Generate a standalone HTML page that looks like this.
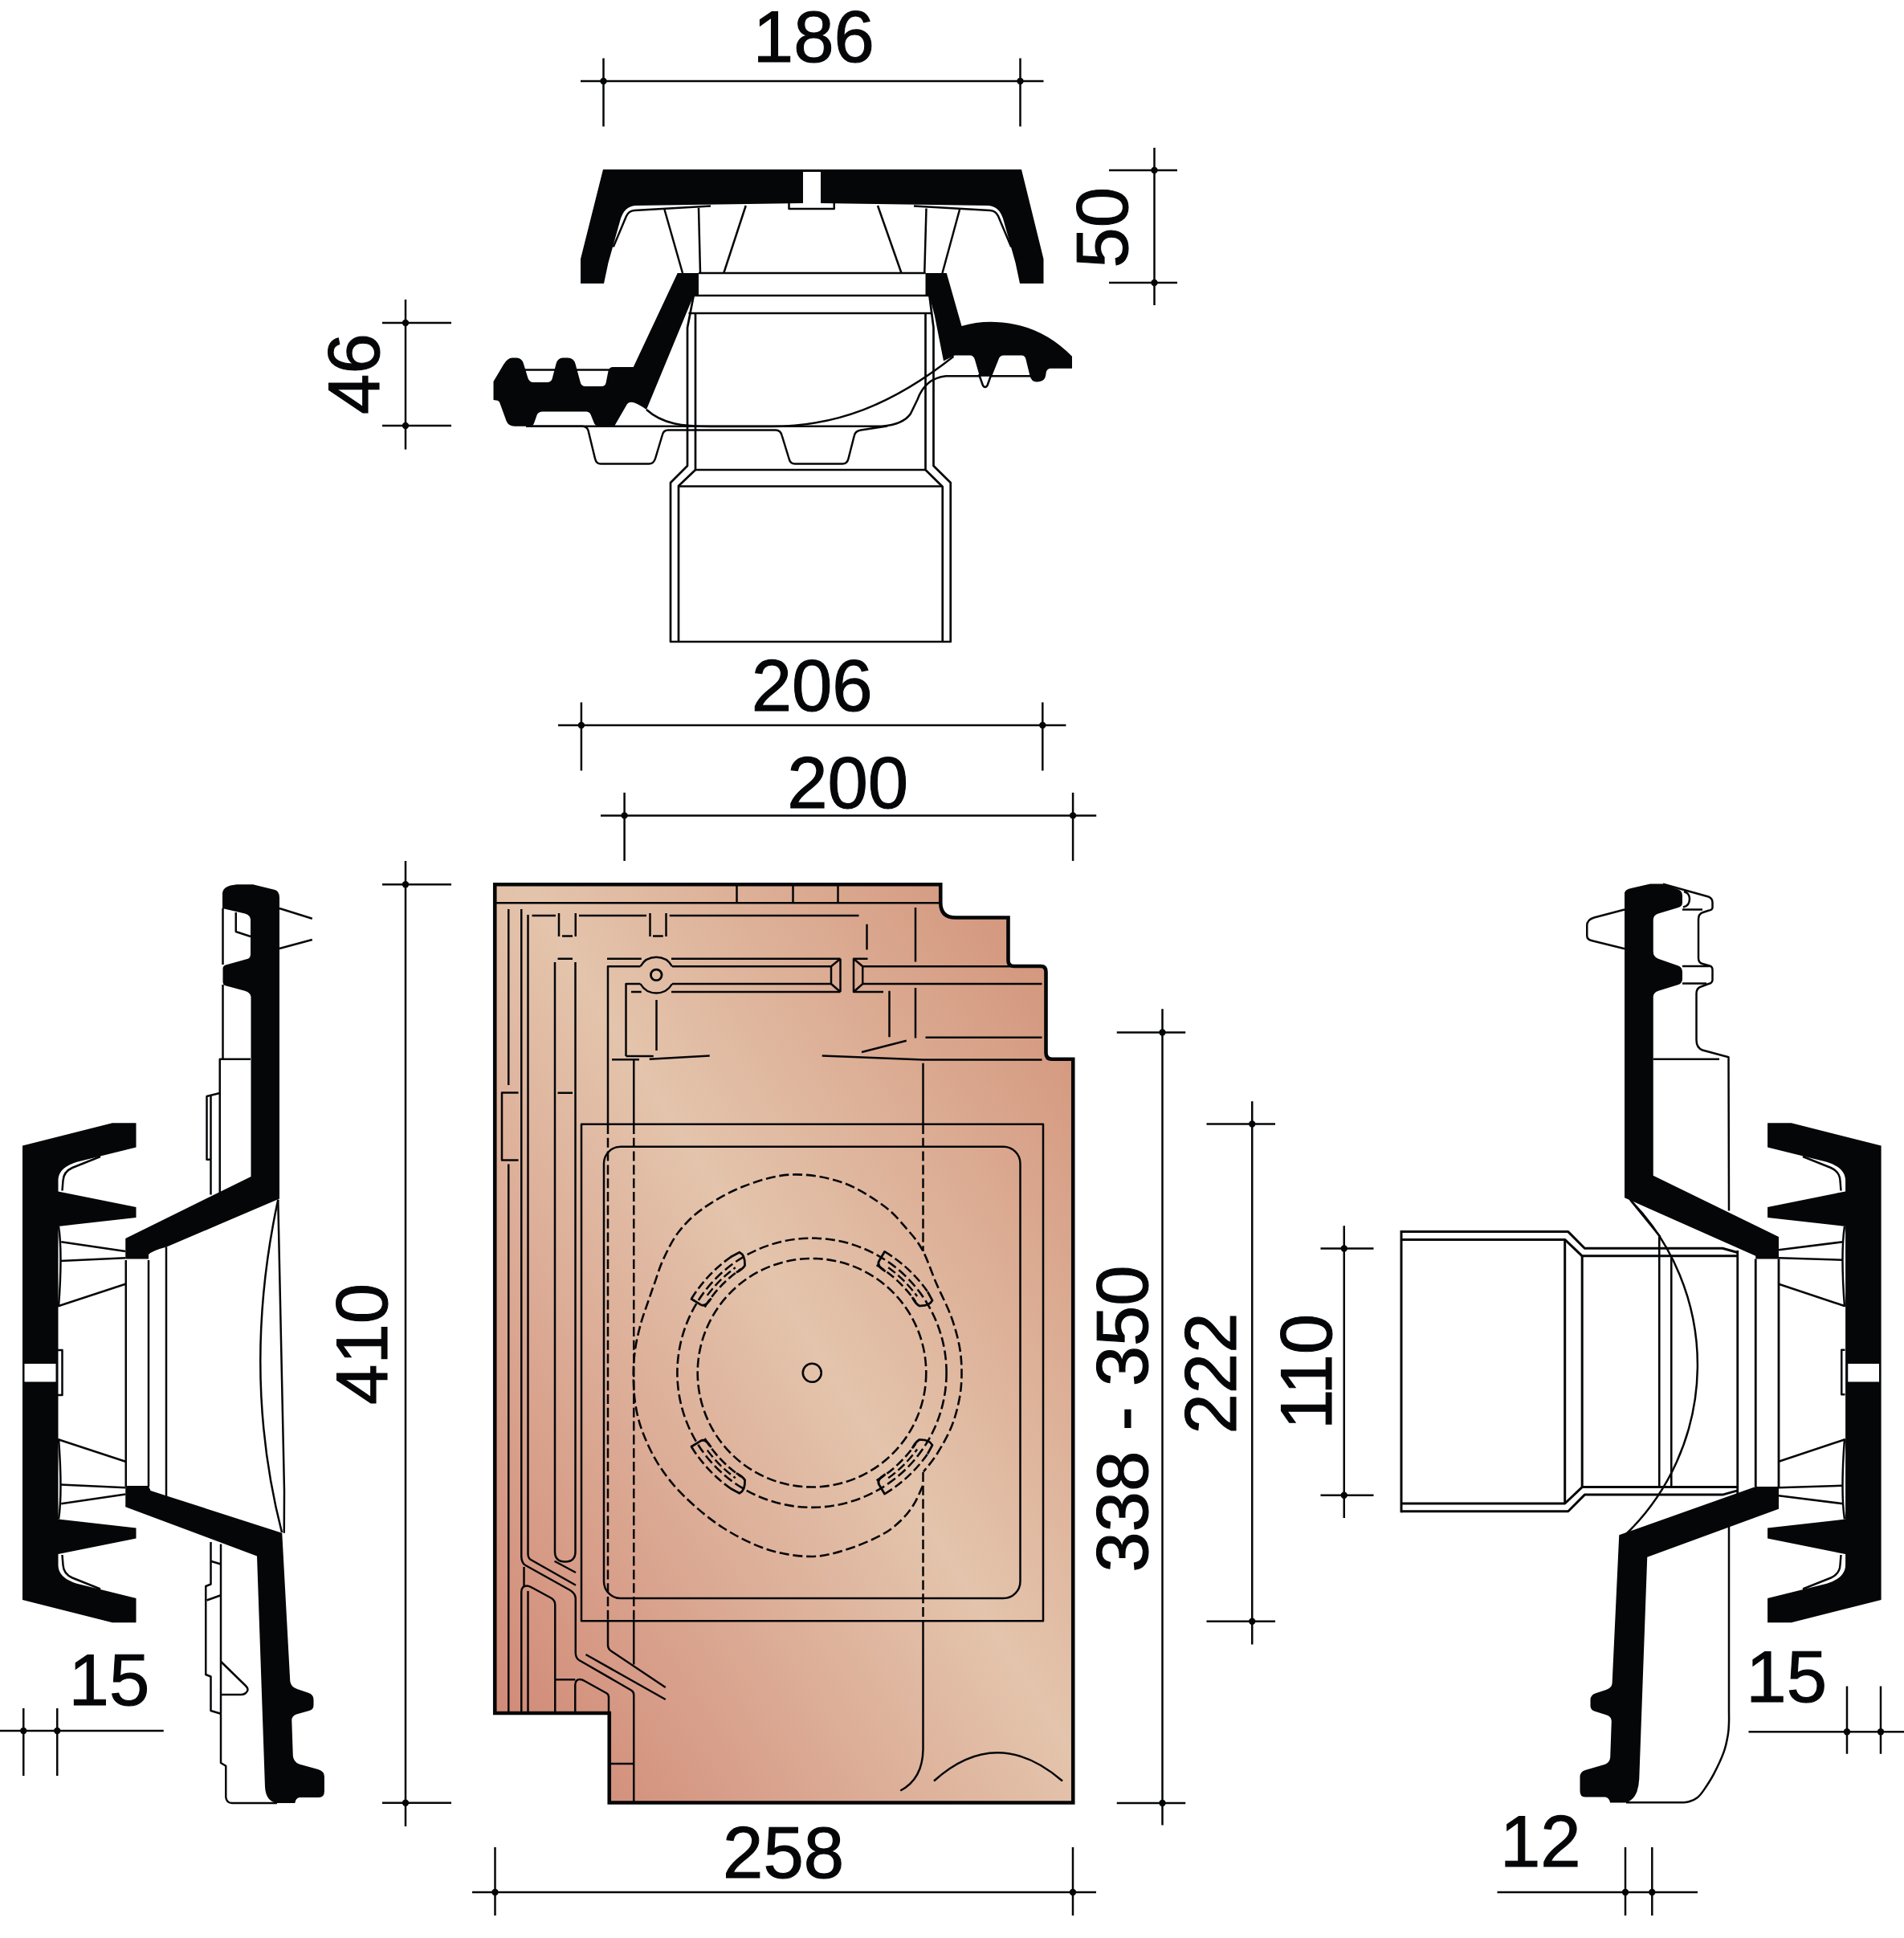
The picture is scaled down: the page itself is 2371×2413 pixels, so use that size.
<!DOCTYPE html>
<html><head><meta charset="utf-8"><title>Drawing</title>
<style>
html,body{margin:0;padding:0;background:#fff;}
svg{display:block;}
text{font-family:"Liberation Sans",Arial,Helvetica,sans-serif;fill:#050608;stroke:#050608;stroke-width:1.1px;stroke-linejoin:miter;}
</style></head>
<body>
<svg width="2371" height="2413" viewBox="0 0 2371 2413" fill="none" stroke="#050608" stroke-linecap="butt" stroke-linejoin="round">
<defs>
<linearGradient id="tg" gradientUnits="userSpaceOnUse" x1="461" y1="1997" x2="1491" y2="1347">
<stop offset="0" stop-color="#cf8572"/>
<stop offset="0.525" stop-color="#e4c4ac"/>
<stop offset="1" stop-color="#d19076"/>
</linearGradient>
</defs>
<rect x="0" y="0" width="2371" height="2413" fill="#ffffff" stroke="none"/>
<g id="topview">
<path d="M763.75,307.5 L780,269 Q783,262.5 790,262 L885,256.5" stroke-width="2.5" fill="none" />
<path d="M1259.25,307.5 L1243,269 Q1240,262.5 1233,262 L1138,256.5" stroke-width="2.5" fill="none" />
<line x1="827.5" y1="261" x2="850" y2="340" stroke-width="2.5" />
<line x1="870" y1="258.75" x2="872" y2="340" stroke-width="2.5" />
<line x1="928.75" y1="256" x2="901.25" y2="340" stroke-width="2.5" />
<line x1="1195" y1="261" x2="1173.5" y2="340" stroke-width="2.5" />
<line x1="1153.5" y1="259.5" x2="1151.25" y2="340" stroke-width="2.5" />
<line x1="1093" y1="256" x2="1122.5" y2="340" stroke-width="2.5" />
<path d="M982.5,253 L982.5,260 L1038.75,260 L1038.75,253" stroke-width="2.5" fill="none" />
<line x1="870" y1="340" x2="1152.5" y2="340" stroke-width="2.7" />
<line x1="863" y1="368" x2="1158" y2="368" stroke-width="2.7" />
<line x1="857.5" y1="390" x2="1160" y2="390" stroke-width="2.7" />
<path d="M863.75,368 L856,408 L856,580 L835,601 L835,799 L1183.75,799 L1183.75,601 L1162.5,580 L1162.5,408 L1157.5,368.75" stroke-width="2.7" fill="none" />
<path d="M866,390 L866,585 L845,605 L845,799" stroke-width="2.7" fill="none" />
<path d="M1152.5,390 L1152.5,585 L1173.75,606 L1173.75,799" stroke-width="2.7" fill="none" />
<line x1="866" y1="585" x2="1152.5" y2="585" stroke-width="2.7" />
<line x1="845" y1="605.5" x2="1173.75" y2="605.5" stroke-width="2.7" />
<line x1="651" y1="460.5" x2="760" y2="460.5" stroke-width="2.5" />
<path d="M655,530.75 L1098,530.75 Q1125,528.5 1134,515 L1142.5,497.5 Q1152,471 1178,468.25 L1283,468.25" stroke-width="2.5" fill="none" />
<path d="M805,510 C825,528 850,531 885,531 L960,531 C1040,531 1110,505 1187.5,443.75" stroke-width="2.5" fill="none" />
<path d="M662.5,530.75 L725,530.75 Q731,531 732.5,536 L741,571 Q742.5,577.5 748,577.5 L808,577.5 Q814,577.5 816,571 L825,541 Q826.5,535.5 832,535.5 L966,535.5 Q972,535.5 973.75,542.5 L982.5,571 Q984,577.5 990,577.5 L1049,577.5 Q1055,577.5 1056.5,571 L1063.75,542.5 Q1065,536.5 1072,535.5 L1105,530.5" stroke-width="2.5" fill="none" />
<path d="M1219,466 L1224,480 Q1226.7,484 1229.5,480 L1234.5,466" stroke-width="2.5" fill="#fff" />
<path d="M751,211 L1272,211 L1299.5,322.5 L1299.5,353 L1270,353 L1264.5,327 L1249,272 Q1244,257 1231,256 L1022,253 L1000,253 L791,256 Q778,257 773,272 L757.5,327 L752,353 L723,353 L723,322.5 Z" fill="#050608" stroke="none"/>
<rect x="1000" y="214" width="22" height="40" fill="#fff" stroke="none"/>
<path d="M843.75,340 L870,340 L870,368 L863.75,368 L805,510 Q797,504 790,501.5 Q784,499.5 781,503 L765,530.75 L746,530.75 Q741,530.75 739.5,526 L735.5,516 Q734,512.5 730,512.5 L676,512.5 Q670,512.5 668.5,517 L665,527 Q663.5,530.75 659,530.75 L641,530.75 Q633,530.75 630.5,524 L622.5,502 Q621.5,498.5 618,498.5 L614.5,498 L614.5,475 L627,454 Q632,445.5 638,445.5 L643,445.5 Q650,445.5 652,453 L657.5,471 Q659.5,476 664,476 L681,476 Q686,476 687.5,472 L692.5,453 Q694.5,445.5 701,445.5 L707,445.5 Q714.5,445.5 716.5,453 L723,477 Q724.5,481 729,481 L749,481 Q753.5,481 754.5,477 L757.5,462 Q758.5,457 763.5,457 L788.75,457 Z" fill="#050608" stroke="none"/>
<path d="M1152.5,340 L1178.75,340 L1197.5,406 Q1218,400 1240,401 Q1295,403 1335,443.75 L1335,458.75 L1307.5,458.75 Q1303,459.5 1302.5,465 Q1302,475.5 1291,475.5 Q1284.5,475.5 1282.5,468 L1277.5,447.5 Q1276.5,442.5 1272,442.5 L1250,442.5 Q1245,442.5 1243.5,447.5 L1235,468.75 L1220,468.75 L1214,448 Q1212.5,442.5 1208,442.5 L1188.75,442.5 L1175,449.5 L1163.75,392.5 L1157.5,368.75 L1152.5,368.75 Z" fill="#050608" stroke="none"/>
</g>
<g id="tileplan">
<path d="M616.25,1101.25 L1171.25,1101.25 L1171.25,1123.75 Q1171.25,1142.5 1190,1142.5 L1255.5,1142.5 L1255.5,1196 Q1255.5,1203 1262.5,1203 L1296,1203 Q1302.5,1203 1302.5,1210 L1302.5,1311 Q1302.5,1318.75 1310,1318.75 L1336.25,1318.75 L1336.25,2244.5 L758.75,2244.5 L758.75,2133 L616.25,2133 Z" fill="url(#tg)" stroke="none"/>
<line x1="616" y1="1124.25" x2="1171" y2="1124.25" stroke-width="2.5" />
<line x1="917.5" y1="1103" x2="917.5" y2="1123" stroke-width="2.5" />
<line x1="987.5" y1="1103" x2="987.5" y2="1123" stroke-width="2.5" />
<line x1="1043.5" y1="1103" x2="1043.5" y2="1123" stroke-width="2.5" />
<line x1="633.25" y1="1132" x2="633.25" y2="1351" stroke-width="2.5" />
<line x1="633.25" y1="1449.5" x2="633.25" y2="2133" stroke-width="2.5" />
<path d="M649.25,1132 L649.25,1938 Q649.5,1946 654,1948.75 L710,1980 Q716.5,1984 716.75,1990 L716.75,2058 Q717,2064.5 721,2067 L786,2104.5 Q789.25,2106.5 789.25,2110 L789.25,2244" stroke-width="2.5" fill="none" />
<path d="M657.5,1139 L657.5,1935 Q657.7,1940 661,1942 L717,1973.75" stroke-width="2.5" fill="none" />
<line x1="662.5" y1="1140" x2="692" y2="1140" stroke-width="2.5" />
<line x1="721" y1="1140" x2="805" y2="1140" stroke-width="2.5" />
<line x1="833.75" y1="1140" x2="1069.5" y2="1140" stroke-width="2.5" />
<path d="M696,1137 L696,1166 M716.75,1137 L716.75,1166 M700,1165.5 L713,1165.5" stroke-width="2.5" fill="none" />
<path d="M809.5,1137 L809.5,1166 M829.5,1137 L829.5,1166 M813,1165.5 L825.75,1165.5" stroke-width="2.5" fill="none" />
<path d="M691,1198 L691,1932 Q691,1944.5 703.75,1944.5 Q716.5,1944.5 716.5,1932 L716.5,1198" stroke-width="2.5" fill="none" />
<line x1="694.5" y1="1193.75" x2="713" y2="1193.75" stroke-width="2.5" />
<line x1="694.5" y1="1360.75" x2="713" y2="1360.75" stroke-width="2.5" />
<path d="M645.5,1360.5 L625,1360.5 L625,1444.5 L645.5,1444.5" stroke-width="2.5" fill="none" />
<line x1="690.5" y1="1943.75" x2="717" y2="1958" stroke-width="2.5" />
<line x1="652.5" y1="1951" x2="652.5" y2="1975" stroke-width="2.5" />
<path d="M649.25,2133 L649.25,1982 Q649.5,1974.5 656,1974.5 Q659,1974.5 663,1977 L686,1989.5 Q691.25,1992.5 691.25,1998 L691.25,2133" stroke-width="2.5" fill="none" />
<line x1="657.5" y1="1981" x2="657.5" y2="2133" stroke-width="2.5" />
<line x1="691.25" y1="2091.25" x2="716.25" y2="2091.25" stroke-width="2.5" />
<path d="M716.25,2133 L716.25,2098 Q716.5,2091 722,2091 Q725,2091 728,2093 L755,2108 Q758,2109.5 758,2113 L758,2133" stroke-width="2.5" fill="none" />
<line x1="756" y1="1193.75" x2="798.75" y2="1193.75" stroke-width="2.5" />
<line x1="836" y1="1193.75" x2="1046.5" y2="1193.75" stroke-width="2.5" />
<path d="M757,1400 L757,1203.25 L797.5,1203.25" stroke-width="2.5" fill="none" />
<line x1="837" y1="1203.25" x2="1035" y2="1203.25" stroke-width="2.5" />
<path d="M779.5,1315 L779.5,1225 L797.5,1225" stroke-width="2.5" fill="none" />
<line x1="837" y1="1225" x2="1035" y2="1225" stroke-width="2.5" />
<line x1="786" y1="1235" x2="798.75" y2="1235" stroke-width="2.5" />
<line x1="836" y1="1235" x2="1046.5" y2="1235" stroke-width="2.5" />
<path d="M797.5,1203.25 A22.8,22.8 0 0 1 837,1203.25" stroke-width="2.5" fill="none" />
<path d="M797.5,1225 A22.8,22.8 0 0 0 837,1225" stroke-width="2.5" fill="none" />
<circle cx="817.25" cy="1213.9" r="6.8" stroke-width="2.8"/>
<path d="M1046.5,1193.75 L1046.5,1235 M1035,1203.25 L1035,1225 M1035,1203.25 L1046.5,1193.75 M1035,1225 L1046.5,1235" stroke-width="2.5" fill="none" />
<path d="M1080.5,1193.75 L1063,1193.75 L1063,1235 L1100,1235 M1063,1193.75 L1074.25,1203.25 L1074.25,1225 L1063,1235" stroke-width="2.5" fill="none" />
<line x1="1074.25" y1="1203.25" x2="1257.5" y2="1203.25" stroke-width="2.5" />
<line x1="1074.25" y1="1225" x2="1297.5" y2="1225" stroke-width="2.5" />
<line x1="1079.5" y1="1150.75" x2="1079.5" y2="1182.5" stroke-width="2.5" />
<line x1="1140" y1="1130" x2="1140" y2="1197.5" stroke-width="2.5" />
<line x1="1107.5" y1="1233.75" x2="1107.5" y2="1291.25" stroke-width="2.5" />
<line x1="1140" y1="1230" x2="1140" y2="1292.5" stroke-width="2.5" />
<line x1="1152.5" y1="1291.75" x2="1297.5" y2="1291.75" stroke-width="2.5" />
<line x1="1073" y1="1310" x2="1128.75" y2="1295.75" stroke-width="2.5" />
<path d="M1023.75,1314.5 L1150,1319.5 L1297.5,1319.5" stroke-width="2.5" fill="none" />
<line x1="817.5" y1="1245" x2="817.5" y2="1308" stroke-width="2.5" />
<line x1="779.5" y1="1315" x2="813.75" y2="1315" stroke-width="2.5" />
<line x1="762" y1="1319.25" x2="796" y2="1319.25" stroke-width="2.5" />
<line x1="808.75" y1="1318.75" x2="883.75" y2="1314.5" stroke-width="2.5" />
<line x1="789.25" y1="1319" x2="789.25" y2="1400" stroke-width="2.5" />
<line x1="1149.5" y1="1323.75" x2="1149.5" y2="1400" stroke-width="2.5" />
<line x1="757" y1="1400" x2="757" y2="2018" stroke-width="2.5" stroke-dasharray="12 4.8"/>
<line x1="789.25" y1="1400" x2="789.25" y2="2018" stroke-width="2.5" stroke-dasharray="12 4.8"/>
<line x1="1149.5" y1="1400" x2="1149.5" y2="1558" stroke-width="2.5" stroke-dasharray="12 4.8"/>
<line x1="1149.5" y1="1833" x2="1149.5" y2="2018" stroke-width="2.5" stroke-dasharray="12 4.8"/>
<path d="M757,2018 L757,2048 Q757,2053.5 761.5,2056 L828.75,2101" stroke-width="2.5" fill="none" />
<line x1="789.25" y1="2018" x2="789.25" y2="2072.5" stroke-width="2.5" />
<line x1="729.5" y1="2060" x2="828.75" y2="2116" stroke-width="2.5" />
<line x1="760" y1="2196" x2="788" y2="2196" stroke-width="2.5" />
<path d="M1149.5,2018 L1149.5,2178 Q1149,2215 1121.25,2229.5" stroke-width="2.5" fill="none" />
<path d="M1163,2217.5 Q1241.25,2147 1323,2217.5" stroke-width="2.5" fill="none" />
<rect x="724" y="1399.75" width="575" height="618.5" stroke-width="2.5"/>
<rect x="752" y="1427.75" width="518.5" height="562.25" rx="21" ry="21" stroke-width="2.5"/>
<circle cx="1011.25" cy="1709.25" r="11.5" stroke-width="2.6"/>
<circle cx="1011" cy="1709.25" r="142.3" stroke-width="2.6" stroke-dasharray="12 4.8"/>
<circle cx="1011" cy="1709.25" r="167.6" stroke-width="2.6" stroke-dasharray="12 4.8"/>
<path d="M1149.00,1850.00 C1147.17,1853.83 1142.50,1865.83 1138.00,1873.00 C1133.50,1880.17 1128.67,1886.67 1122.00,1893.00 C1115.33,1899.33 1109.17,1905.00 1098.00,1911.00 C1086.83,1917.00 1069.67,1924.50 1055.00,1929.00 C1040.33,1933.50 1026.67,1938.00 1010.00,1938.00 C993.33,1938.00 973.33,1935.00 955.00,1929.00 C936.67,1923.00 917.17,1913.00 900.00,1902.00 C882.83,1891.00 865.17,1875.83 852.00,1863.00 C838.83,1850.17 829.50,1838.00 821.00,1825.00 C812.50,1812.00 805.92,1797.50 801.00,1785.00 C796.08,1772.50 793.54,1762.08 791.50,1750.00 C789.46,1737.92 788.83,1724.17 788.75,1712.50 C788.67,1700.83 789.46,1690.75 791.00,1680.00 C792.54,1669.25 795.17,1658.33 798.00,1648.00 C800.83,1637.67 805.17,1626.33 808.00,1618.00 C810.83,1609.67 812.00,1606.33 815.00,1598.00 C818.00,1589.67 821.00,1578.67 826.00,1568.00 C831.00,1557.33 836.83,1544.50 845.00,1534.00 C853.17,1523.50 861.67,1514.42 875.00,1505.00 C888.33,1495.58 906.67,1484.58 925.00,1477.50 C943.33,1470.42 964.50,1463.42 985.00,1462.50 C1005.50,1461.58 1028.83,1465.58 1048.00,1472.00 C1067.17,1478.42 1086.33,1491.17 1100.00,1501.00 C1113.67,1510.83 1121.83,1521.67 1130.00,1531.00 C1138.17,1540.33 1143.00,1545.83 1149.00,1557.00 C1155.00,1568.17 1160.17,1584.50 1166.00,1598.00 C1171.83,1611.50 1179.25,1625.17 1184.00,1638.00 C1188.75,1650.83 1192.25,1663.42 1194.50,1675.00 C1196.75,1686.58 1197.42,1696.67 1197.50,1707.50 C1197.58,1718.33 1197.08,1728.58 1195.00,1740.00 C1192.92,1751.42 1189.67,1764.33 1185.00,1776.00 C1180.33,1787.67 1172.83,1800.58 1167.00,1810.00 C1161.17,1819.42 1152.83,1828.75 1150.00,1832.50" stroke-width="2.6" fill="none" stroke-dasharray="12 4.8"/>
<path d="M860.94,1617.29 A176.0,176.0 0 0 1 912.07,1563.68" stroke-width="2.6" fill="none" stroke-dasharray="11 4.5"/>
<path d="M877.56,1627.48 A156.5,156.5 0 0 1 923.03,1579.81" stroke-width="2.6" fill="none" stroke-dasharray="11 4.5"/>
<path d="M880.78,1612.89 A162,162 0 0 1 915.78,1578.19" stroke-width="2.4" fill="none" stroke-dasharray="11 4.5"/>
<path d="M910.05,1565.08 L920.87,1559.25 Q928.15,1562.81 927.54,1575.68 Q924.33,1580.75 916.82,1584.26" stroke-width="2.8" fill="none" />
<path d="M860.08,1616.77 L872.45,1624.34 Q878.41,1628.00 885.60,1616.46" stroke-width="2.8" fill="none" />
<path d="M860.94,1801.21 A176.0,176.0 0 0 0 912.07,1854.82" stroke-width="2.6" fill="none" stroke-dasharray="11 4.5"/>
<path d="M877.56,1791.02 A156.5,156.5 0 0 0 923.03,1838.69" stroke-width="2.6" fill="none" stroke-dasharray="11 4.5"/>
<path d="M880.78,1805.61 A162,162 0 0 0 915.78,1840.31" stroke-width="2.4" fill="none" stroke-dasharray="11 4.5"/>
<path d="M910.05,1853.42 L920.87,1859.25 Q928.15,1855.69 927.54,1842.82 Q924.33,1837.75 916.82,1834.24" stroke-width="2.8" fill="none" />
<path d="M860.08,1801.73 L872.45,1794.16 Q878.41,1790.50 885.60,1802.04" stroke-width="2.8" fill="none" />
<path d="M1101.65,1558.39 A176.0,176.0 0 0 1 1156.57,1610.32" stroke-width="2.6" fill="none" stroke-dasharray="11 4.5"/>
<path d="M1091.60,1575.10 A156.5,156.5 0 0 1 1140.44,1621.28" stroke-width="2.6" fill="none" stroke-dasharray="11 4.5"/>
<path d="M1106.22,1578.19 A162,162 0 0 1 1142.06,1614.03" stroke-width="2.4" fill="none" stroke-dasharray="11 4.5"/>
<path d="M1155.17,1608.30 L1161.00,1619.12 Q1157.44,1626.40 1144.57,1625.79 Q1139.50,1622.58 1135.99,1615.07" stroke-width="2.8" fill="none" />
<path d="M1102.16,1557.53 L1094.69,1569.96 Q1091.09,1575.96 1102.69,1583.04" stroke-width="2.8" fill="none" />
<path d="M1101.65,1860.11 A176.0,176.0 0 0 0 1156.57,1808.18" stroke-width="2.6" fill="none" stroke-dasharray="11 4.5"/>
<path d="M1091.60,1843.40 A156.5,156.5 0 0 0 1140.44,1797.22" stroke-width="2.6" fill="none" stroke-dasharray="11 4.5"/>
<path d="M1106.22,1840.31 A162,162 0 0 0 1142.06,1804.47" stroke-width="2.4" fill="none" stroke-dasharray="11 4.5"/>
<path d="M1155.17,1810.20 L1161.00,1799.38 Q1157.44,1792.10 1144.57,1792.71 Q1139.50,1795.92 1135.99,1803.43" stroke-width="2.8" fill="none" />
<path d="M1102.16,1860.97 L1094.69,1848.54 Q1091.09,1842.54 1102.69,1835.46" stroke-width="2.8" fill="none" />
<path d="M616.25,1101.25 L1171.25,1101.25 L1171.25,1123.75 Q1171.25,1142.5 1190,1142.5 L1255.5,1142.5 L1255.5,1196 Q1255.5,1203 1262.5,1203 L1296,1203 Q1302.5,1203 1302.5,1210 L1302.5,1311 Q1302.5,1318.75 1310,1318.75 L1336.25,1318.75 L1336.25,2244.5 L758.75,2244.5 L758.75,2133 L616.25,2133 Z" fill="none" stroke-width="4.6" stroke-linejoin="miter"/>
</g>
<g id="leftsec">
<line x1="348" y1="1131" x2="388.75" y2="1143.75" stroke-width="2.5" />
<line x1="348" y1="1181" x2="388.75" y2="1170" stroke-width="2.5" />
<path d="M293.75,1136 L293.75,1160 L312,1166" stroke-width="2.5" fill="none" />
<line x1="277.5" y1="1131" x2="277.5" y2="1201" stroke-width="2.5" />
<line x1="277.5" y1="1226" x2="277.5" y2="1318.75" stroke-width="2.5" />
<path d="M312,1318.75 L273.75,1318.75 L273.75,1490" stroke-width="2.5" fill="none" />
<path d="M273.75,1361 L257.5,1365 L257.5,1443.75 L262.5,1443.75" stroke-width="2.5" fill="none" />
<line x1="262.5" y1="1364" x2="262.5" y2="1487.5" stroke-width="2.5" />
<path d="M346.25,1493.75 Q300,1709 351,1908" stroke-width="2.5" fill="none" />
<path d="M346.25,1493.75 L354,1856 L353.75,1908.75" stroke-width="2.5" fill="none" />
<line x1="156.75" y1="1569" x2="156.75" y2="1851" stroke-width="2.5" />
<line x1="185" y1="1569" x2="185" y2="1851" stroke-width="2.5" />
<line x1="207" y1="1552.5" x2="207" y2="1863" stroke-width="2.5" />
<line x1="76.25" y1="1546.25" x2="156.25" y2="1558" stroke-width="2.5" />
<line x1="76.25" y1="1872.25" x2="156.25" y2="1860.5" stroke-width="2.5" />
<line x1="75" y1="1570" x2="156.25" y2="1566.25" stroke-width="2.5" />
<line x1="75" y1="1848.5" x2="156.25" y2="1852.25" stroke-width="2.5" />
<line x1="72.5" y1="1626.25" x2="156.25" y2="1598.75" stroke-width="2.5" />
<line x1="72.5" y1="1792.25" x2="156.25" y2="1819.75" stroke-width="2.5" />
<path d="M125,1440 L90,1454 Q79,1459 78.5,1470 L77.5,1482.5" stroke-width="2.5" fill="none" />
<path d="M125,1978.5 L90,1964.5 Q79,1959.5 78.5,1948.5 L77.5,1936" stroke-width="2.5" fill="none" />
<path d="M73,1527 Q78,1560 73,1627" stroke-width="2.5" fill="none" />
<path d="M73,1891.5 Q78,1858.5 73,1791.5" stroke-width="2.5" fill="none" />
<path d="M72,1681 L77.5,1681 L77.5,1737 L72,1737" stroke-width="2.5" fill="none" />
<path d="M262.5,1920 L262.5,1972.5 L256.25,1975 L256.25,2085 L262.5,2087.5 L262.5,2130 L275,2133.75 L275,2195 L281.25,2198.75 L281.25,2237.5 Q282,2245 289,2245 L345,2245" stroke-width="2.5" fill="none" />
<line x1="275" y1="1922.5" x2="275" y2="2133" stroke-width="2.5" />
<path d="M275,2068.75 L306,2099 Q311,2104 306,2108 Q304,2110 300,2110 L275,2110" stroke-width="2.5" fill="none" />
<line x1="262.5" y1="1943.75" x2="275" y2="1947.5" stroke-width="2.5" />
<line x1="257.5" y1="1992.5" x2="275" y2="1986.25" stroke-width="2.5" />
<path d="M28.00,1426.60 L139.90,1398.30 L169.50,1398.30 L169.50,1428.50 L95.80,1446.80 C84.00,1450.50 72.50,1457.00 72.50,1470.00 L72.50,1483.40 L169.50,1502.90 L169.50,1516.10 L72.50,1526.90 L72.50,1891.60 L169.50,1902.40 L169.50,1915.60 L72.50,1935.10 L72.50,1948.50 C72.50,1961.50 84.00,1968.00 95.80,1971.70 L169.50,1990.00 L169.50,2020.20 L139.90,2020.20 L28.00,1991.90 Z" fill="#050608" stroke="none"/>
<rect x="30.5" y="1698" width="39" height="22.5" fill="#fff" stroke="none"/>
<path d="M277,1113 Q277,1104 290,1102 L295,1101.25 L315,1101.25 L342.5,1108 Q348,1110 348,1117.5 L348,1492.5 L207.5,1552.5 Q190,1557 185,1562 L185,1567.5 L156.25,1567.5 L156.25,1542 L312.5,1465 L312.5,1241 Q312,1236 305,1233.75 L280,1227 Q277.5,1226 277.5,1222 L277.5,1206 Q277.5,1202.5 281,1201.5 L308.75,1193.75 Q312,1192.5 312,1187.5 L312,1145 Q312,1139.5 305,1137.5 L277,1131 Z" fill="#050608" stroke="none"/>
<path d="M156.25,1850 L185,1850 L187.5,1856 L207.5,1862.5 L351.25,1908.75 L361.25,2093 Q362,2100.5 370,2103 L384,2107.8 Q390.5,2110 390.5,2116 L390.5,2123 Q390.5,2128.5 385,2130 L369,2134.4 Q363.3,2136.5 363.3,2142 L364.8,2186 Q365.3,2193.5 372.5,2196.5 L396,2203 Q403.9,2205.5 403.9,2212 L403.9,2230.5 Q403.9,2238 397,2238 L373,2238 Q368,2239 367.3,2245 L345,2245 Q331,2243 330,2225 L320,1937.5 L156.25,1876.25 Z" fill="#050608" stroke="none"/>
</g>
<g id="rightsec">
<path d="M2023,1132.5 L1985,1142.5 Q1976.25,1145 1976.25,1152.5 L1976.25,1165 Q1976.25,1170 1982.5,1171.25 L2023,1181.25" stroke-width="2.5" fill="#fff" />
<path d="M2071,1100.8 L2127.5,1116.5 Q2132.5,1118.5 2132.5,1123.75 L2132.5,1130 Q2132.5,1133 2127.5,1133.75 L2120,1136.25 Q2115,1138 2115,1145 L2115,1192.5 Q2115,1199 2120,1200 L2128.75,1202.5 Q2132.5,1203.5 2132.5,1207.5 L2132.5,1220 Q2132.5,1224 2127.5,1225 L2117.5,1228.75 Q2112.5,1230.5 2112.5,1237.5 L2112.5,1295 Q2112.5,1304.5 2120,1307.5 L2152.5,1316.25 L2153,1507.5" stroke-width="2.5" fill="none" />
<path d="M2097,1110 Q2104,1112 2104,1119 Q2104,1128 2096,1129.5" stroke-width="2.5" fill="none" />
<line x1="2095" y1="1132.5" x2="2120" y2="1132.5" stroke-width="2.5" />
<line x1="2095" y1="1203" x2="2128.75" y2="1203" stroke-width="2.5" />
<line x1="2095" y1="1224.5" x2="2125" y2="1224.5" stroke-width="2.5" />
<line x1="2058.75" y1="1318.75" x2="2141" y2="1318.75" stroke-width="2.5" />
<path d="M2153,1901 L2153,2130  C2153.00,2132.43 2153.20,2139.63 2153.00,2144.60 C2152.80,2149.57 2152.85,2153.70 2151.80,2159.80 C2150.75,2165.90 2149.65,2173.02 2146.70,2181.20 C2143.75,2189.38 2138.30,2200.92 2134.10,2208.90 C2129.90,2216.88 2124.85,2224.27 2121.50,2229.10 C2118.15,2233.93 2116.93,2235.58 2114.00,2237.90 C2111.07,2240.22 2107.07,2241.93 2103.90,2243.00 C2100.73,2244.07 2096.48,2244.08 2095.00,2244.30 L2025,2244.3" stroke-width="2.5" fill="none" />
<path d="M2031.25,1495 A294,294 0 0 1 2025,1910" stroke-width="2.5" fill="none" />
<line x1="2030" y1="1493.75" x2="2067.5" y2="1540" stroke-width="2.5" />
<path d="M1745,1533.6 L1952.8,1533.6 L1973.3,1554.3 L2145,1554.3 L2163.75,1559.5" stroke-width="3" fill="none" />
<path d="M1745,1543.4 L1948.7,1543.4 L1970.2,1563.8 L2163.75,1563.8" stroke-width="3" fill="none" />
<path d="M1745,1881.8 L1952.8,1881.8 L1973.3,1861.1 L2145,1861.1 L2163.75,1855.9" stroke-width="3" fill="none" />
<path d="M1745,1872.0 L1948.7,1872.0 L1970.2,1851.6 L2163.75,1851.6" stroke-width="3" fill="none" />
<line x1="1745" y1="1532.1" x2="1745" y2="1883.3" stroke-width="3" />
<line x1="1948.7" y1="1543.4" x2="1948.7" y2="1872.0" stroke-width="3" />
<line x1="1970.2" y1="1563.8" x2="1970.2" y2="1851.6" stroke-width="3" />
<line x1="2066.25" y1="1540" x2="2066.25" y2="1852" stroke-width="2.6" />
<line x1="2081.25" y1="1563.8" x2="2081.25" y2="1851.6" stroke-width="2.6" />
<line x1="2163.75" y1="1557" x2="2163.75" y2="1861.5" stroke-width="2.8" />
<line x1="2186.25" y1="1567.5" x2="2186.25" y2="1851" stroke-width="2.8" />
<line x1="2215" y1="1567.5" x2="2215" y2="1851" stroke-width="2.8" />
<line x1="2215" y1="1556.25" x2="2295" y2="1546.25" stroke-width="2.5" />
<line x1="2215" y1="1862.25" x2="2295" y2="1872.25" stroke-width="2.5" />
<line x1="2215" y1="1566.25" x2="2295" y2="1568.75" stroke-width="2.5" />
<line x1="2215" y1="1852.25" x2="2295" y2="1849.75" stroke-width="2.5" />
<line x1="2215" y1="1598.75" x2="2297.5" y2="1626.25" stroke-width="2.5" />
<line x1="2215" y1="1819.75" x2="2297.5" y2="1792.25" stroke-width="2.5" />
<path d="M2245,1440 L2280,1454 Q2291,1459 2291.5,1470 L2292.5,1482.5" stroke-width="2.5" fill="none" />
<path d="M2245,1978.5 L2280,1964.5 Q2291,1959.5 2291.5,1948.5 L2292.5,1936.0" stroke-width="2.5" fill="none" />
<path d="M2297,1527 Q2292,1560 2297,1627" stroke-width="2.5" fill="none" />
<path d="M2297,1891.5 Q2292,1858.5 2297,1791.5" stroke-width="2.5" fill="none" />
<path d="M2297.5,1680.75 L2293.25,1680.75 L2293.25,1736.25 L2297.5,1736.25" stroke-width="2.5" fill="none" />
<path d="M2342.60,1426.60 L2230.70,1398.30 L2201.10,1398.30 L2201.10,1428.50 L2274.80,1446.80 C2286.60,1450.50 2298.10,1457.00 2298.10,1470.00 L2298.10,1483.40 L2201.10,1502.90 L2201.10,1516.10 L2298.10,1526.90 L2298.10,1891.60 L2201.10,1902.40 L2201.10,1915.60 L2298.10,1935.10 L2298.10,1948.50 C2298.10,1961.50 2286.60,1968.00 2274.80,1971.70 L2201.10,1990.00 L2201.10,2020.20 L2230.70,2020.20 L2342.60,1991.90 Z" fill="#050608" stroke="none"/>
<rect x="2301.25" y="1698" width="38.75" height="22.5" fill="#fff" stroke="none"/>
<path d="M2023,1113 Q2023,1107.5 2031,1106 L2055,1100.5 L2071,1100.5 L2090,1107.5 Q2095,1109.5 2095,1115 L2095,1123.75 Q2095,1128.5 2090,1130 L2065,1137.5 Q2058.75,1139.5 2058.75,1145 L2058.75,1185 Q2058.75,1191.5 2065,1193.75 L2090,1202.5 Q2095,1204.5 2095,1210 L2095,1218.75 Q2095,1224.5 2090,1226 L2065,1233.75 Q2058.75,1236 2058.75,1241 L2058.75,1463.75 L2215,1540 L2215,1567.5 L2186.25,1567.5 L2186.25,1563.75 L2023,1491.25 Z" fill="#050608" stroke="none"/>
<path d="M2186.25,1851 L2215,1851 L2215,1878.75 L2051.25,1938.75 L2041.25,2215 Q2040,2240 2025,2244.5 L2005,2244.5 Q2004,2238.3 1999,2237.5 L1974,2237.5 Q1967.5,2237.5 1967.5,2230 L1967.5,2212.5 Q1967.5,2206.2 1974,2204 L1998,2197 Q2004.8,2194.5 2005.2,2188 L2006.8,2143 Q2006.8,2137.5 2001,2135.5 L1986,2130.7 Q1980.5,2129 1980.5,2124 L1980.5,2116.5 Q1980.5,2110.5 1987,2108.3 L2000,2104 Q2007,2101.5 2007.6,2096 L2016.25,1911.25 Z" fill="#050608" stroke="none"/>
</g>
<g id="dims">
<line x1="723" y1="101" x2="1299.5" y2="101" stroke-width="2.5" />
<line x1="751.5" y1="72.5" x2="751.5" y2="157.5" stroke-width="2.5" />
<circle cx="751.5" cy="101" r="4.2" fill="#050608" stroke="none"/>
<line x1="1270.5" y1="72.5" x2="1270.5" y2="157.5" stroke-width="2.5" />
<circle cx="1270.5" cy="101" r="4.2" fill="#050608" stroke="none"/>
<text x="937.86" y="77.20" font-size="90.50">186</text>
<line x1="1437.5" y1="184" x2="1437.5" y2="380" stroke-width="2.5" />
<line x1="1381.0" y1="212" x2="1466.0" y2="212" stroke-width="2.5" />
<circle cx="1437.5" cy="212" r="4.2" fill="#050608" stroke="none"/>
<line x1="1381.0" y1="352" x2="1466.0" y2="352" stroke-width="2.5" />
<circle cx="1437.5" cy="352" r="4.2" fill="#050608" stroke="none"/>
<text x="1403.80" y="333.62" font-size="90.50" transform="rotate(-90 1403.80 333.62)">50</text>
<line x1="505" y1="373" x2="505" y2="559.6" stroke-width="2.5" />
<line x1="476" y1="402" x2="562" y2="402" stroke-width="2.5" />
<circle cx="505" cy="402" r="4.2" fill="#050608" stroke="none"/>
<line x1="476" y1="530" x2="562" y2="530" stroke-width="2.5" />
<circle cx="505" cy="530" r="4.2" fill="#050608" stroke="none"/>
<text x="471.80" y="515.90" font-size="90.50" transform="rotate(-90 471.80 515.90)">46</text>
<line x1="695" y1="903" x2="1327.4" y2="903" stroke-width="2.5" />
<line x1="723.9" y1="874.5" x2="723.9" y2="959.5" stroke-width="2.5" />
<circle cx="723.9" cy="903" r="4.2" fill="#050608" stroke="none"/>
<line x1="1298.3" y1="874.5" x2="1298.3" y2="959.5" stroke-width="2.5" />
<circle cx="1298.3" cy="903" r="4.2" fill="#050608" stroke="none"/>
<text x="935.67" y="885.30" font-size="90.50">206</text>
<line x1="748" y1="1015.4" x2="1365.2" y2="1015.4" stroke-width="2.5" />
<line x1="777.6" y1="986.9" x2="777.6" y2="1071.9" stroke-width="2.5" />
<circle cx="777.6" cy="1015.4" r="4.2" fill="#050608" stroke="none"/>
<line x1="1336.1" y1="986.9" x2="1336.1" y2="1071.9" stroke-width="2.5" />
<circle cx="1336.1" cy="1015.4" r="4.2" fill="#050608" stroke="none"/>
<text x="980.15" y="1006.30" font-size="90.50">200</text>
<line x1="588" y1="2356" x2="1365" y2="2356" stroke-width="2.5" />
<line x1="616.5" y1="2300" x2="616.5" y2="2385" stroke-width="2.5" />
<circle cx="616.5" cy="2356" r="4.2" fill="#050608" stroke="none"/>
<line x1="1336" y1="2300" x2="1336" y2="2385" stroke-width="2.5" />
<circle cx="1336" cy="2356" r="4.2" fill="#050608" stroke="none"/>
<text x="900.12" y="2338.40" font-size="90.50">258</text>
<line x1="1864.5" y1="2356" x2="2114" y2="2356" stroke-width="2.5" />
<line x1="2024" y1="2300" x2="2024" y2="2385" stroke-width="2.5" />
<circle cx="2024" cy="2356" r="4.2" fill="#050608" stroke="none"/>
<line x1="2057.3" y1="2300" x2="2057.3" y2="2385" stroke-width="2.5" />
<circle cx="2057.3" cy="2356" r="4.2" fill="#050608" stroke="none"/>
<text x="1868.02" y="2323.90" font-size="90.50">12</text>
<line x1="0" y1="2155" x2="203.75" y2="2155" stroke-width="2.5" />
<line x1="29.25" y1="2127" x2="29.25" y2="2211" stroke-width="2.5" />
<circle cx="29.25" cy="2155" r="4.2" fill="#050608" stroke="none"/>
<line x1="71.25" y1="2127" x2="71.25" y2="2211" stroke-width="2.5" />
<circle cx="71.25" cy="2155" r="4.2" fill="#050608" stroke="none"/>
<text x="85.55" y="2122.50" font-size="90.50">15</text>
<line x1="2177.5" y1="2156.25" x2="2371" y2="2156.25" stroke-width="2.5" />
<line x1="2300" y1="2099.5" x2="2300" y2="2183.75" stroke-width="2.5" />
<circle cx="2300" cy="2156.25" r="4.2" fill="#050608" stroke="none"/>
<line x1="2342" y1="2099.5" x2="2342" y2="2183.75" stroke-width="2.5" />
<circle cx="2342" cy="2156.25" r="4.2" fill="#050608" stroke="none"/>
<text x="2174.30" y="2118.75" font-size="90.50">15</text>
<line x1="505" y1="1072" x2="505" y2="2274" stroke-width="2.5" />
<line x1="476" y1="1101.25" x2="562" y2="1101.25" stroke-width="2.5" />
<circle cx="505" cy="1101.25" r="4.2" fill="#050608" stroke="none"/>
<line x1="476" y1="2244.7" x2="562" y2="2244.7" stroke-width="2.5" />
<circle cx="505" cy="2244.7" r="4.2" fill="#050608" stroke="none"/>
<text x="481.80" y="1748.88" font-size="90.50" transform="rotate(-90 481.80 1748.88)">410</text>
<line x1="1447.5" y1="1256.25" x2="1447.5" y2="2272.5" stroke-width="2.5" />
<line x1="1390.75" y1="1285.5" x2="1476.25" y2="1285.5" stroke-width="2.5" />
<circle cx="1447.5" cy="1285.5" r="4.2" fill="#050608" stroke="none"/>
<line x1="1390.75" y1="2245" x2="1476.25" y2="2245" stroke-width="2.5" />
<circle cx="1447.5" cy="2245" r="4.2" fill="#050608" stroke="none"/>
<text x="1428.80" y="1957.75" font-size="90.50" transform="rotate(-90 1428.80 1957.75)">338 - 350</text>
<line x1="1559.25" y1="1371.25" x2="1559.25" y2="2047.5" stroke-width="2.5" />
<line x1="1502.5" y1="1399.5" x2="1588.0" y2="1399.5" stroke-width="2.5" />
<circle cx="1559.25" cy="1399.5" r="4.2" fill="#050608" stroke="none"/>
<line x1="1502.5" y1="2018.75" x2="1588.0" y2="2018.75" stroke-width="2.5" />
<circle cx="1559.25" cy="2018.75" r="4.2" fill="#050608" stroke="none"/>
<text x="1539.05" y="1785.53" font-size="90.50" transform="rotate(-90 1539.05 1785.53)">222</text>
<line x1="1673.75" y1="1526.25" x2="1673.75" y2="1890" stroke-width="2.5" />
<line x1="1644.5" y1="1554.5" x2="1710.5" y2="1554.5" stroke-width="2.5" />
<circle cx="1673.75" cy="1554.5" r="4.2" fill="#050608" stroke="none"/>
<line x1="1644.5" y1="1861.75" x2="1710.5" y2="1861.75" stroke-width="2.5" />
<circle cx="1673.75" cy="1861.75" r="4.2" fill="#050608" stroke="none"/>
<text x="1658.30" y="1780.09" font-size="90.50" transform="rotate(-90 1658.30 1780.09)">110</text>
</g>
</svg>
</body></html>
